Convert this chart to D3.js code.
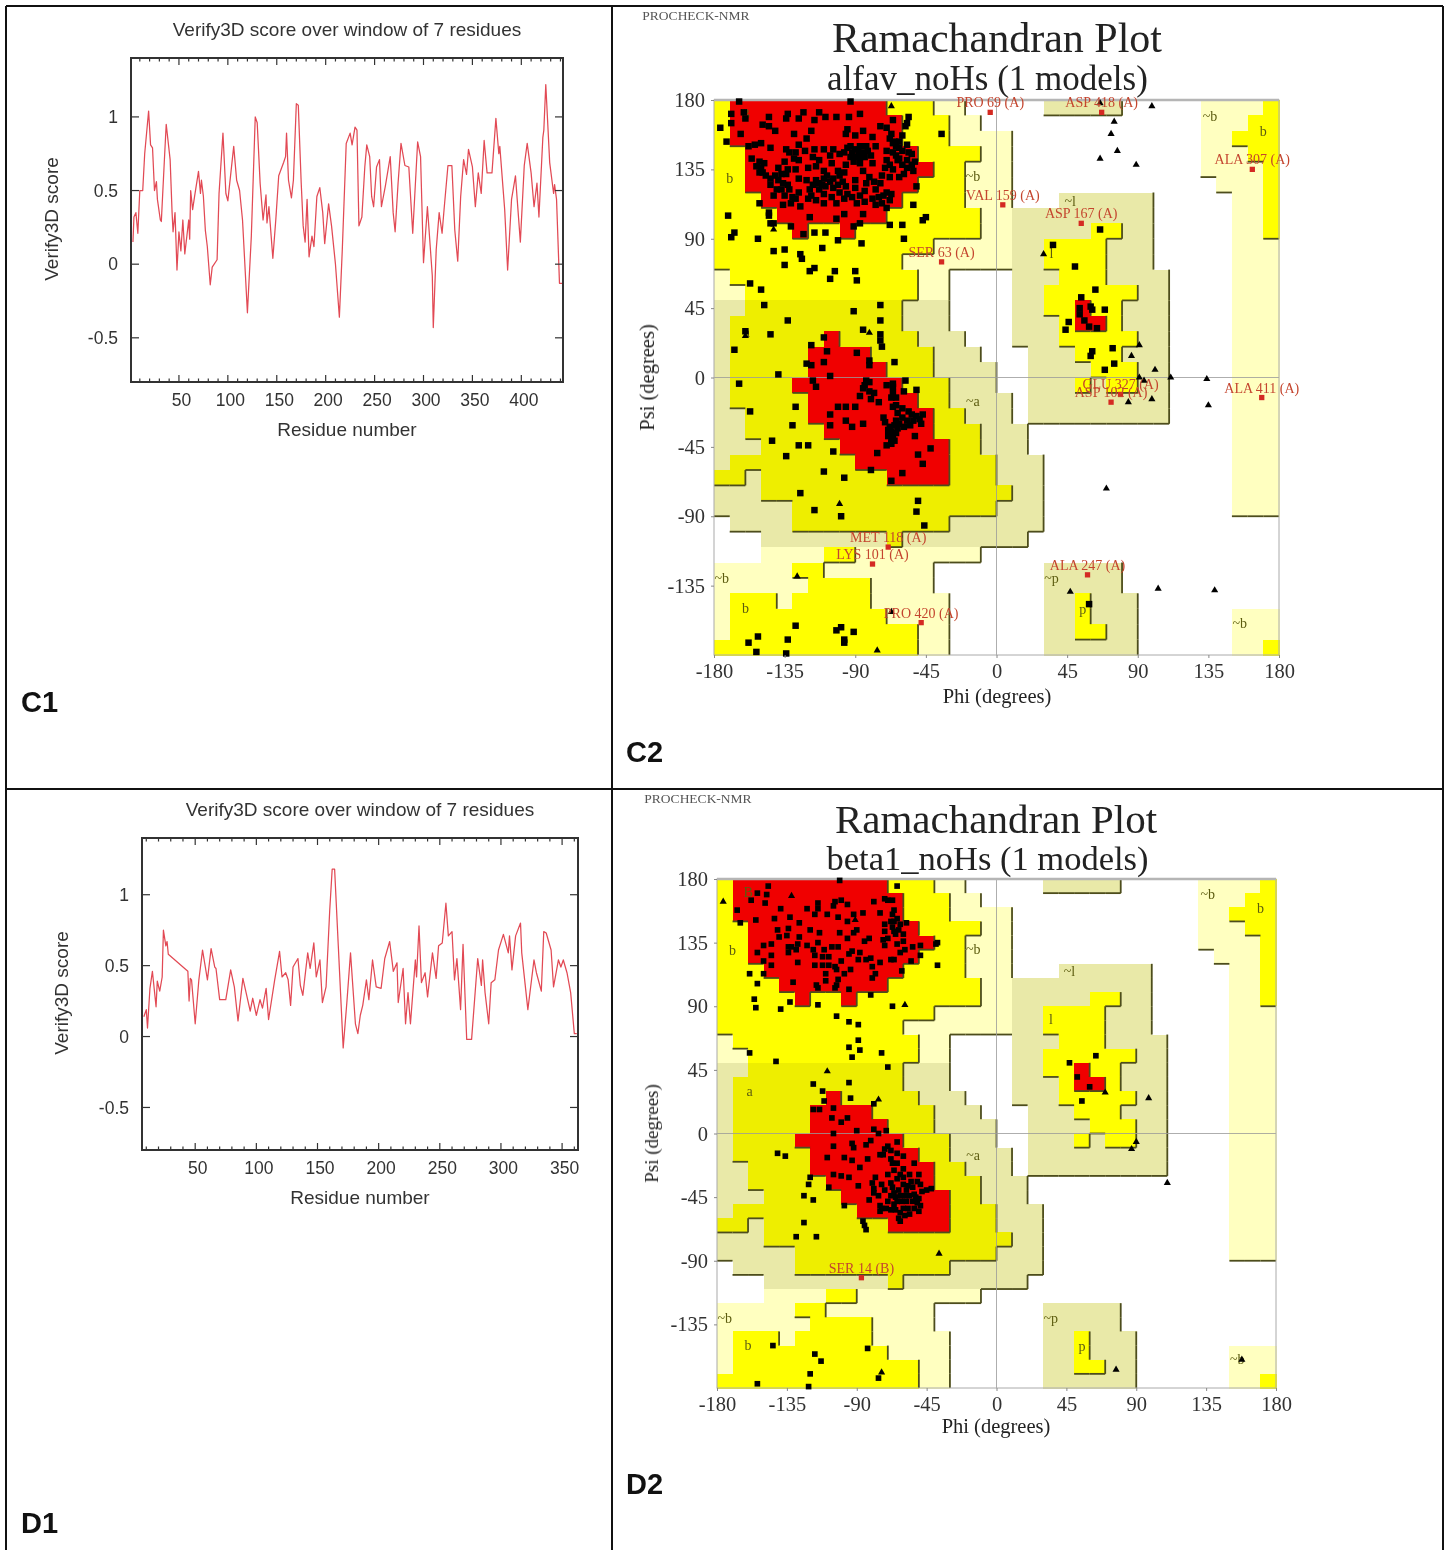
<!DOCTYPE html>
<html>
<head>
<meta charset="utf-8">
<title>Verify3D and Ramachandran plots</title>
<script src="https://cdn.jsdelivr.net/npm/d3@7"></script>
<style>
  html, body { margin: 0; padding: 0; background: #fff; }
  svg { display: block; }
</style>
</head>
<body>
<svg id="sheet" width="1450" height="1550"></svg>
<script>
// Verify3D profiles, [residue, score]
const c1Profile = [[3,.15],[4,.32],[6,.35],[8,.21],[10,.5],[13,.5],[15,.75],[19,1.04],[21,.81],[23,.79],[25,.5],[27,.56],[28,.44],[31,.3],[32,.29],[35,.69],[37,.95],[41,.71],[43,.35],[44,.22],[46,.35],[48,-.04],[50,.22],[52,.09],[54,.3],[56,.07],[60,.3],[61,.17],[62,.5],[64,.37],[66,.46],[70,.63],[72,.48],[73,.57],[75,.46],[77,.23],[79,.12],[82,-.14],[84,-.02],[89,.03],[91,.48],[95,.89],[98,.48],[100,.43],[106,.8],[109,.57],[112,.5],[115,.3],[120,-.33],[124,.19],[128,1],[130,.96],[133,.55],[136,.3],[139,.47],[140,.28],[142,.39],[146,.04],[149,.3],[152,.6],[157,.69],[159,.73],[160,.89],[162,.57],[165,.45],[167,.57],[170,1.09],[172,1.08],[175,.55],[177,.26],[179,.15],[181,.44],[183,.05],[186,.19],[188,.12],[191,.46],[194,.52],[197,.35],[199,.14],[203,.41],[206,.26],[210,0],[214,-.36],[217,.1],[221,.82],[225,.89],[227,.81],[230,.93],[232,.91],[234,.26],[237,.32],[240,.66],[242,.81],[245,.73],[247,.46],[249,.39],[252,.66],[255,.71],[257,.39],[261,.53],[266,.73],[269,.35],[271,.22],[274,.55],[277,.82],[281,.67],[285,.66],[289,.21],[294,.83],[297,.73],[300,.01],[304,.39],[309,-.08],[310,-.43],[313,.1],[316,.35],[319,.21],[321,.37],[325,.67],[329,.67],[332,.23],[335,.02],[338,.46],[341,.71],[344,.61],[346,.78],[350,.66],[353,.39],[356,.62],[359,.48],[362,.84],[365,.62],[370,.62],[374,.99],[377,.75],[378,.8],[383,.37],[386,-.04],[390,.44],[394,.6],[399,.15],[403,.67],[406,.82],[410,.62],[413,.39],[416,.55],[418,.32],[422,.86],[423,.91],[425,1.22],[429,.69],[433,.48],[434,.54],[436,.44],[439,-.13],[442,-.13]];
const d1Profile = [[8,.14],[10,.19],[11,.06],[13,.34],[15,.46],[18,.21],[19,.39],[21,.32],[23,.42],[24,.75],[26,.64],[27,.67],[28,.58],[44,.46],[45,.25],[46,.41],[47,.4],[50,.09],[53,.4],[56,.61],[60,.4],[63,.62],[66,.49],[67,.48],[70,.26],[75,.26],[79,.47],[82,.35],[85,.11],[89,.41],[95,.18],[97,.27],[100,.15],[103,.26],[105,.2],[108,.34],[110,.12],[115,.4],[119,.6],[121,.42],[124,.45],[126,.4],[128,.22],[130,.49],[134,.55],[136,.36],[138,.29],[142,.59],[144,.48],[147,.66],[149,.42],[152,.54],[154,.24],[157,.35],[160,.89],[162,1.18],[164,1.18],[167,.64],[171,-.08],[174,.24],[177,.59],[181,.09],[183,.02],[185,.15],[187,.22],[190,.4],[192,.26],[195,.54],[198,.35],[202,.34],[205,.55],[209,.67],[212,.46],[215,.52],[216,.24],[220,.48],[222,.09],[224,.31],[226,.09],[230,.54],[231,.42],[233,.78],[235,.38],[238,.45],[240,.28],[244,.59],[247,.41],[249,.64],[252,.66],[255,.94],[257,.71],[260,.74],[262,.4],[264,.55],[267,.19],[269,.65],[272,-.02],[276,-.02],[281,.55],[284,.36],[285,.54],[287,.31],[290,.09],[292,.38],[295,.4],[298,.61],[302,.72],[306,.59],[307,.71],[309,.47],[312,.71],[316,.8],[317,.59],[322,.19],[327,.54],[329,.45],[333,.32],[335,.74],[337,.73],[341,.61],[343,.35],[347,.54],[349,.49],[351,.54],[354,.45],[357,.31],[360,.02],[362,.02]];
const verifyScoreTicks = [-0.5, 0, 0.5, 1];

// Ramachandran region map, one row per 10 degrees of psi from 180 down to -180.
// R core, Y/A allowed, P/K generous, . disallowed
const regionRows = [
  'YRRRRRRRRRRYYYPP.....KKKKK.....PPPPY',
  'YRRRRRRRRRRRYYYPP..............PPPYY',
  'YRRRRRRRRRRRYYYPPPP............PPYYY',
  'YYRRRRRRRRRRRYYYYPP............PPPYY',
  'YYRRRRRRRRRRRRYYPPP............PPPPY',
  'YYRRRRRRRRRRRYYYPPP.............PPPY',
  'YYYRRRRRRRRRYYYYPPP...KKKKKK.....PPY',
  'YYYYRRRRRRRYYYYYYPPKKKKKKKKK.....PPY',
  'YYYYYRYYRYYYYYYYYPPKKKKKYYKK.....PPY',
  'YYYYYYYYYYYYYYPPPPPKKYYYYKKK.....PPP',
  'YYYYYYYYYYYYPPPPPPPKKYYYYKKK.....PPP',
  'PYYYYYYYYYYYYPP....KKKYYYKKKK....PPP',
  'PPYYYYYYYYYYYPP....KKYYYYYYKK....PPP',
  'KKAAAAAAAAAAKKK....KKYYRYYKKK....PPP',
  'KAAAAAAAAAAAKKK....KKKYRRYKKK....PPP',
  'KAAAAAARAAAAAKKK...KKKYYYYYKK....PPP',
  'KAAAAARRRRAAAAKKK...KKKYYYKKK....PPP',
  'KAAAAARRRRRAAAKKKK..KKKKYYYKK....PPP',
  'KAAAARRRRRRRAAAKKK..KKKYKYYKK....PPP',
  'KAAAAARRRRRRRAAKKKK.KKKKKKKKK....PPP',
  'KKAAAARRRRRRRRAAKKK.KKKKKKKKK....PPP',
  'KKAAAAARRRRRRRAAAKKK.............PPP',
  'KKKAAAAARRRRRRRAAKKK.............PPP',
  'KAAAAAAAARRRRRRAAAKKK............PPP',
  'AAKAAAAAAAARRRRAAAKKK............PPP',
  'KKKAAAAAAAAAAAAAAAAKK............PPP',
  'KKKKKAAAAAAAAAAAAAKKK............PPP',
  '.KKKKAAAAAAAAAAKKKKKK...............',
  '...KKKKKKKKAKKKKKKKK................',
  '...PPPPYYPPPPPPPP...................',
  'PPPPPYYPPPPPPP.......KKKKK..........',
  'PPPPPPYYYYPPPP.......KKKKK..........',
  'PYYYPYYYYYPPPPP......KKYKKK.........',
  'PYYYYYYYYYYPPPP......KKYKKK......PPP',
  'PYYYYYYYYYYYYPP......KKYYKK......PPP',
  'YYYYYYYYYYYYYPP......KKKKKK......PPY'
];
const regionColours = { R: '#f00000', Y: '#ffff00', A: '#eeee00', P: '#ffffc0', K: '#e9e9a8' };
const regionRank = { R: 3, Y: 2, A: 2, P: 1, K: 1, '.': 0 };
const regionNotes = [[-160,170,'B'],[-170,129,'b'],[-15,130,'~b'],[136,169,'~b'],[170,159,'b'],[47,114,'~l'],[35,80,'l'],[-159,29,'a'],[-15,-16,'~a'],[-175,-131,'~b'],[-160,-150,'b'],[35,-131,'~p'],[55,-151,'p'],[155,-160,'~b']];
const angleTicks = [-180, -135, -90, -45, 0, 45, 90, 135, 180];

// residues, [phi, psi]
const alfavSquares = [[-164,179],[-93,179],[-176,162],[-172,153],[-169,165],[-169,171],[-161,172],[-160,168],[-163,158],[-145,169],[-149,164],[-133,171],[-123,172],[-134,168],[-126,168],[-113,172],[-116,167],[-109,169],[-102,169],[-94,169],[-87,171],[-145,163],[-141,160],[-129,158],[-118,160],[-95,161],[-96,158],[-85,160],[-74,163],[-70,162],[-66,167],[-56,169],[-57,165],[-58,163],[-67,158],[-65,153],[-35,158],[-57,151],[-62,149],[-79,156],[-90,157],[-121,155],[-158,150],[-154,151],[-150,152],[-144,149],[-134,148],[-116,148],[-110,148],[-126,151],[-106,144],[-95,149],[-92,146],[-87,150],[-82,147],[-87,143],[-90,143],[-77,150],[-70,147],[-64,144],[-62,142],[-54,145],[-52,140],[-57,136],[-70,141],[-79,139],[-85,134],[-96,138],[-101,134],[-110,134],[-115,137],[-126,141],[-129,142],[-135,140],[-156,142],[-151,140],[-150,136],[-149,133],[-139,136],[-137,132],[-144,129],[-134,132],[-126,129],[-121,128],[-115,128],[-110,129],[-108,131],[-100,131],[-97,133],[-90,128],[-81,130],[-73,131],[-68,130],[-62,130],[-59,132],[-53,134],[-51,124],[-53,112],[-144,125],[-137,122],[-132,122],[-126,120],[-119,122],[-113,122],[-109,124],[-104,123],[-96,124],[-90,123],[-83,126],[-77,122],[-70,120],[-67,119],[-151,113],[-142,118],[-136,112],[-131,113],[-125,111],[-120,116],[-115,115],[-110,113],[-102,113],[-97,116],[-89,113],[-77,112],[-73,113],[-145,107],[-145,105],[-119,104],[-102,103],[-97,106],[-85,106],[-171,105],[-45,104],[-47,102],[-144,100],[-142,100],[-131,98],[-91,98],[-87,100],[-68,99],[-60,99],[-167,94],[-169,91],[-152,90],[-123,93],[-116,94],[-109,94],[-101,89],[-86,87],[-59,90],[-142,82],[-135,83],[-125,80],[-124,77],[-111,84],[-135,73],[-119,69],[-116,71],[-103,69],[-90,69],[-106,64],[-89,63],[-157,61],[-150,57],[-148,47],[-133,37],[-144,28],[-160,30],[-167,18],[-91,43],[-74,47],[-74,37],[-85,31],[-74,28],[-74,24],[-73,20],[-110,26],[-118,21],[-108,17],[-121,9],[-118,8],[-89,16],[-81,11],[-81,8],[-65,10],[-139,2],[-106,1],[-110,10],[-164,-4],[-117,-2],[-115,-6],[-83,-2],[-81,-3],[-85,-7],[-87,-12],[-78,-10],[-58,-2],[-51,-8],[-66,-4],[-66,-6],[-59,-9],[-67,-13],[-64,-13],[-128,-19],[-157,-22],[-130,-31],[-143,-41],[-126,-44],[-120,-44],[-134,-51],[-104,-48],[-110,-61],[-97,-65],[-80,-60],[-67,-67],[-60,-62],[-125,-75],[-116,-86],[-99,-90],[-50,-80],[-51,-87],[-46,-96],[-101,-19],[-96,-19],[-90,-19],[-106,-24],[-96,-28],[-106,-31],[-92,-32],[-85,-30],[-75,-16],[-66,-19],[-60,-20],[-64,-18],[-56,-22],[-54,-24],[-51,-25],[-49,-27],[-53,-28],[-71,-29],[-68,-32],[-67,-35],[-66,-38],[-65,-31],[-62,-30],[-59,-32],[-67,-43],[-52,-38],[-42,-46],[-50,-50],[-47,-56],[-76,-49],[-69,-34],[-64,-36],[-67,-41],[-128,-161],[-158,-172],[-152,-168],[-133,-170],[-153,-178],[-134,-179],[-102,-164],[-99,-162],[-91,-165],[-97,-170],[-97,-172],[36,86],[50,72],[66,96],[54,52],[63,57],[69,44],[60,46],[61,44],[53,45],[53,41],[56,37],[59,33],[64,32],[46,36],[44,31],[61,17],[60,14],[74,19],[75,9],[69,5],[59,-147],
  [-93,150],[-90,148],[-88,147],[-85,146],[-83,150],[-80,144],[-84,143],[-93,143],[-91,140],[-87,139],[-68,155],[-66,152],[-64,150],[-62,153],[-60,147],[-66,146],[-63,141],[-60,138],[-68,138],[-66,135],[-71,136],[-60,157],[-56,146],[-57,141],[-54,138],[-141,131],[-139,128],[-136,126],[-133,125],[-140,122],[-135,118],[-130,117],[-128,116],[-133,135],[-128,135],[-117,125],[-113,126],[-106,127],[-104,129],[-101,125],[-118,118],[-110,119],[-105,117],[-100,120],[-95,119],[-92,117],[-87,118],[-84,121],[-111,125],[-98,127],[-153,137],[-148,139],[-151,133],[-147,131],[-122,147],[-117,143],[-113,141],[-105,139],[-100,145],[-97,146],[-120,136],[-128,146],[-132,146],[-104,148],[-78,127],[-74,126],[-72,118],[-68,115],[-75,117],[-79,116],[-84,114],[-70,110],[-70,-5],[-66,-10],[-63,-23],[-69,-38],[-65,-41],[-63,-33],[-70,-44],[-64,-28],[-60,-26],[-57,-28],[-55,-31],[-72,-26],[-81,-9],[-84,-5],[-80,-14],[-47,-24],[-48,-30]];
const alfavTriangles = [[-67,176],[-142,96],[-81,29],[-160,27],[-100,-82],[-127,-129],[-76,-177],[-67,-152],[99,176],[75,166],[73,158],[77,147],[66,142],[89,138],[30,80],[91,21],[86,14],[101,5],[91,0],[111,0],[66,178],[94,-2],[99,-14],[84,-16],[134,-1],[135,-18],[70,-72],[103,-137],[139,-138],[47,-139]];
const alfavOutliers = [[-4,172,'PRO 69 (A)'],[67,172,'ASP 418 (A)'],[163,135,'ALA 307 (A)'],[4,112,'VAL 159 (A)'],[54,100,'ASP 167 (A)'],[-35,75,'SER 63 (A)'],[79,-11,'GLU 327 (A)'],[73,-16,'ASP 102 (A)'],[169,-13,'ALA 411 (A)'],[-69,-110,'MET 118 (A)'],[-79,-121,'LYS 101 (A)'],[58,-128,'ALA 247 (A)'],[-48,-159,'PRO 420 (A)']];

const betaSquares = [[-101,179],[-64,175],[-147,175],[-154,170],[-148,169],[-158,165],[-149,163],[-167,158],[-165,149],[-155,151],[-139,159],[-143,152],[-133,153],[-127,149],[-122,159],[-115,163],[-115,159],[-117,155],[-109,155],[-104,164],[-100,165],[-105,161],[-96,162],[-102,153],[-96,150],[-79,164],[-72,166],[-70,165],[-67,165],[-75,156],[-66,158],[-67,155],[-68,150],[-67,146],[-72,143],[-66,143],[-63,144],[-65,141],[-58,149],[-60,141],[-141,144],[-140,139],[-135,140],[-127,139],[-120,144],[-114,142],[-101,142],[-96,138],[-92,142],[-90,144],[-82,138],[-85,136],[-73,137],[-72,133],[-60,136],[-59,130],[-54,132],[-49,133],[-49,126],[-39,134],[-38,135],[-150,133],[-145,134],[-154,128],[-145,126],[-134,132],[-132,132],[-134,128],[-129,130],[-122,133],[-117,126],[-111,130],[-106,132],[-102,132],[-112,125],[-93,129],[-89,123],[-84,123],[-81,124],[-80,118],[-75,121],[-68,123],[-66,123],[-61,115],[-55,122],[-150,122],[-128,121],[-145,119],[-117,119],[-112,119],[-108,119],[-104,118],[-103,116],[-94,116],[-110,113],[-102,109],[-103,105],[-104,103],[-78,113],[-80,110],[-131,107],[-116,105],[-115,103],[-95,102],[-159,113],[-150,113],[-154,106],[-38,119],[-81,98],[-156,95],[-155,89],[-139,88],[-133,93],[-115,91],[-67,90],[-103,83],[-95,79],[-89,77],[-89,66],[-95,61],[-88,59],[-93,54],[-74,57],[-70,47],[-159,57],[-142,51],[-118,35],[-95,36],[-112,30],[-94,25],[-111,23],[-79,21],[-105,18],[-118,17],[-114,17],[-106,11],[-96,11],[-100,8],[-105,0],[-90,2],[-79,3],[-71,2],[-76,0],[-105,-9],[-93,-7],[-92,-10],[-84,-8],[-81,-5],[-70,-9],[-64,-6],[-141,-14],[-136,-16],[-109,-17],[-98,-17],[-93,-19],[-83,-18],[-88,-24],[-75,-15],[-73,-15],[-68,-18],[-67,-21],[-64,-21],[-53,-21],[-60,-25],[-105,-29],[-100,-30],[-95,-31],[-120,-31],[-121,-36],[-108,-38],[-89,-37],[-80,-35],[-79,-39],[-79,-42],[-74,-36],[-68,-35],[-64,-32],[-60,-31],[-56,-29],[-50,-29],[-51,-34],[-54,-38],[-45,-40],[-42,-39],[-65,-45],[-62,-44],[-59,-44],[-56,-44],[-52,-45],[-50,-46],[-64,-48],[-61,-48],[-58,-48],[-54,-48],[-51,-49],[-49,-51],[-60,-53],[-57,-53],[-53,-53],[-50,-55],[-62,-56],[-63,-60],[-62,-62],[-66,-42],[-75,-51],[-74,-53],[-75,-55],[-82,-47],[-98,-51],[-86,-62],[-85,-65],[-84,-68],[-118,-47],[-124,-44],[-124,-63],[-129,-73],[-116,-73],[-144,-150],[-83,-152],[-117,-156],[-113,-161],[-120,-170],[-76,-173],[-154,-177],[-121,-179],[64,55],[47,50],[52,40],[60,33],[55,23],
  [-72,-11],[-68,-12],[-64,-14],[-60,-16],[-66,-26],[-62,-29],[-60,-36],[-57,-37],[-55,-34],[-70,-29],[-72,-40],[-68,-44],[-70,-48],[-66,-50],[-67,-38],[-63,-40],[-48,-41],[-49,-36],[-53,-43],[-58,-40],[-78,-31],[-76,-44],[-71,-53],[-68,-54],[-56,-57],[-59,-58],[-65,-54],[-66,150],[-64,152],[-62,148],[-72,148],[-70,138],[-64,134],[-62,128],[-95,127],[-88,128],[-115,135],[-108,125],[-100,122],[-110,108],[-98,113],[-134,145],[-128,134],[-118,130],[-86,156],[-92,155]];
const betaTriangles = [[-176,164],[-132,168],[-91,151],[-59,91],[-109,44],[-76,24],[-37,-85],[-74,-169],[70,29],[98,25],[90,-6],[87,-11],[110,-35],[77,-167],[158,-160]];
const betaOutliers = [[-87,-102,'SER 14 (B)']];

const svg = d3.select('#sheet');
const defs = svg.append('defs');
[['soft', 0.55], ['softer', 0.7]].forEach(d => {
  defs.append('filter').attr('id', d[0])
    .attr('x', '-5%').attr('y', '-5%').attr('width', '110%').attr('height', '110%')
    .append('feGaussianBlur').attr('stdDeviation', d[1]);
});

const sansFont = '"Liberation Sans", Arial, sans-serif';
const serifFont = '"Liberation Serif", "Times New Roman", serif';

function drawVerify(profile, box, residueDomain, scoreDomain, residueTicks, labels) {
  const x = d3.scaleLinear().domain(residueDomain).range([box.left, box.right]);
  const y = d3.scaleLinear().domain(scoreDomain).range([box.bottom, box.top]);
  const g = svg.append('g').attr('filter', 'url(#soft)');
  const minor = d3.range(Math.ceil(residueDomain[0] / 10) * 10, residueDomain[1], 10);

  const line = d3.line().x(d => x(d[0])).y(d => y(d[1]));
  g.append('path').datum(profile)
    .attr('fill', 'none').attr('stroke', '#e24a54').attr('stroke-width', 1.25)
    .attr('stroke-linejoin', 'round').attr('d', line);

  const xAxis = d3.axisBottom(x).tickValues(residueTicks).tickSize(0).tickPadding(0).tickFormat(d3.format('d'));
  const yAxis = d3.axisLeft(y).tickValues(verifyScoreTicks).tickSize(0).tickPadding(13).tickFormat(d => d);
  const axisStyle = a => {
    a.selectAll('.domain').remove();
    a.selectAll('text').attr('font-family', sansFont).attr('font-size', 17.5).attr('fill', '#333');
  };
  g.append('g').attr('transform', `translate(0,${box.bottom})`).call(xAxis).call(axisStyle)
    .selectAll('text').attr('y', 12).attr('dx', 2);
  g.append('g').attr('transform', `translate(${box.left},0)`).call(yAxis).call(axisStyle);

  // inward ticks on all four sides
  const ticks = g.append('g').attr('stroke', '#333').attr('stroke-width', 1.2);
  minor.forEach(r => {
    const len = residueTicks.includes(r) ? 7 : 3.5;
    ticks.append('line').attr('x1', x(r)).attr('x2', x(r)).attr('y1', box.bottom).attr('y2', box.bottom - len);
    ticks.append('line').attr('x1', x(r)).attr('x2', x(r)).attr('y1', box.top).attr('y2', box.top + len);
  });
  verifyScoreTicks.forEach(v => {
    ticks.append('line').attr('x1', box.left).attr('x2', box.left + 8).attr('y1', y(v)).attr('y2', y(v));
    ticks.append('line').attr('x1', box.right).attr('x2', box.right - 8).attr('y1', y(v)).attr('y2', y(v));
  });
  g.append('rect').attr('x', box.left).attr('y', box.top)
    .attr('width', box.right - box.left).attr('height', box.bottom - box.top)
    .attr('fill', 'none').attr('stroke', '#333').attr('stroke-width', 2);

  const text = g.append('g').attr('font-family', sansFont).attr('font-size', 19).attr('fill', '#333').attr('text-anchor', 'middle');
  text.append('text').attr('x', labels.cx).attr('y', box.top - 22).text('Verify3D score over window of 7 residues');
  text.append('text').attr('x', labels.cx).attr('y', box.bottom + 54).text('Residue number');
  text.append('text').attr('transform', `translate(${labels.yTitleX},${(box.top + box.bottom) / 2 - 1}) rotate(-90)`).text('Verify3D score');
}

function drawRama(box, title, squares, triangles, outliers, marks, labels) {
  const x = d3.scaleLinear().domain([-180, 180]).range([box.left, box.right]);
  const y = d3.scaleLinear().domain([-180, 180]).range([box.bottom, box.top]);
  const g = svg.append('g').attr('filter', 'url(#softer)');

  const cells = [];
  regionRows.forEach((row, r) => row.split('').forEach((k, c) => {
    if (k !== '.') cells.push({ k, phi: -180 + c * 10, psi: 170 - r * 10 });
  }));
  g.append('g').attr('shape-rendering', 'crispEdges').selectAll('rect').data(cells).join('rect')
    .attr('x', d => x(d.phi)).attr('y', d => y(d.psi + 10))
    .attr('width', d => x(d.phi + 10) - x(d.phi) + 0.5)
    .attr('height', d => y(d.psi) - y(d.psi + 10) + 0.5)
    .attr('fill', d => regionColours[d.k]);

  // darker rule on the right and lower edge where a region falls to a lesser one
  const edges = [];
  cells.forEach(d => {
    const c = (d.phi + 180) / 10, r = (170 - d.psi) / 10;
    const here = regionRank[d.k];
    if (c < 35 && here > regionRank[regionRows[r][c + 1]])
      edges.push([d.phi + 10, d.psi, d.phi + 10, d.psi + 10]);
    if (r < 35 && here > regionRank[regionRows[r + 1][c]])
      edges.push([d.phi, d.psi, d.phi + 10, d.psi]);
  });
  g.append('g').selectAll('line').data(edges).join('line')
    .attr('x1', d => x(d[0])).attr('y1', d => y(d[1]))
    .attr('x2', d => x(d[2])).attr('y2', d => y(d[3]))
    .attr('stroke', '#4d4d1c').attr('stroke-width', 1.8);

  // zero lines and frame
  const guide = g.append('g').attr('stroke', '#999').attr('stroke-width', 0.8);
  guide.append('line').attr('x1', x(0)).attr('x2', x(0)).attr('y1', box.top).attr('y2', box.bottom);
  guide.append('line').attr('x1', box.left).attr('x2', box.right).attr('y1', y(0)).attr('y2', y(0));
  g.append('rect').attr('x', box.left).attr('y', box.top)
    .attr('width', box.right - box.left).attr('height', box.bottom - box.top)
    .attr('fill', 'none').attr('stroke', '#aaa').attr('stroke-width', 1);
  g.append('line').attr('x1', box.left).attr('x2', box.right).attr('y1', box.top).attr('y2', box.top)
    .attr('stroke', '#b5b5b5').attr('stroke-width', 2.5);

  // region letters
  g.append('g').attr('font-family', serifFont).attr('font-size', 14).attr('fill', '#5c5c10').attr('text-anchor', 'middle')
    .selectAll('text').data(regionNotes).join('text')
    .attr('x', d => x(d[0])).attr('y', d => y(d[1]) + 4).text(d => d[2]);

  const marker = (type, size) => d3.symbol().type(type).size(size);
  g.append('g').selectAll('path').data(squares).join('path')
    .attr('transform', d => `translate(${x(d[0])},${y(d[1])})`)
    .attr('d', marker(d3.symbolSquare, marks.square)).attr('fill', '#000');
  g.append('g').selectAll('path').data(triangles).join('path')
    .attr('transform', d => `translate(${x(d[0])},${y(d[1])})`)
    .attr('d', marker(d3.symbolTriangle, 22)).attr('fill', '#000');
  g.append('g').selectAll('path').data(outliers).join('path')
    .attr('transform', d => `translate(${x(d[0])},${y(d[1])})`)
    .attr('d', marker(d3.symbolSquare, 28)).attr('fill', '#d42a20');
  g.append('g').attr('font-family', serifFont).attr('font-size', 14).attr('fill', '#c4452e').attr('text-anchor', 'middle')
    .selectAll('text').data(outliers).join('text')
    .attr('x', d => x(d[0])).attr('y', d => y(d[1]) - 5).text(d => d[2]);

  // axes
  const axisStyle = a => {
    a.selectAll('.domain').remove();
    a.selectAll('line').attr('stroke', '#888');
    a.selectAll('text').attr('font-family', serifFont).attr('font-size', 20.5).attr('fill', '#333');
  };
  g.append('g').attr('transform', `translate(0,${box.bottom})`)
    .call(d3.axisBottom(x).tickValues(angleTicks).tickSize(3).tickPadding(5).tickFormat(d => d)).call(axisStyle);
  g.append('g').attr('transform', `translate(${box.left},0)`)
    .call(d3.axisLeft(y).tickValues(angleTicks.slice(1)).tickSize(3).tickPadding(6).tickFormat(d => d)).call(axisStyle);

  const text = g.append('g').attr('font-family', serifFont).attr('fill', '#222').attr('text-anchor', 'middle');
  text.append('text').attr('x', labels.cx).attr('y', labels.mainY).attr('font-size', labels.mainSize).text('Ramachandran Plot');
  text.append('text').attr('x', labels.subX).attr('y', labels.subY).attr('font-size', labels.subSize).text(title);
  text.append('text').attr('x', labels.cx).attr('y', labels.phiY).attr('font-size', 20.5).text('Phi (degrees)');
  text.append('text').attr('transform', `translate(${labels.psiX},${y(0)}) rotate(-90)`).attr('font-size', labels.psiSize).text('Psi (degrees)');
  text.append('text').attr('x', labels.nmrX).attr('y', labels.nmrY).attr('font-size', 13.5).attr('fill', '#555').text('PROCHECK-NMR');
}

drawVerify(c1Profile, { left: 131, right: 563, top: 58, bottom: 382 }, [1, 442.6], [-0.8, 1.4], [50, 100, 150, 200, 250, 300, 350, 400], { cx: 347, yTitleX: 58 });
drawVerify(d1Profile, { left: 142, right: 578, top: 838, bottom: 1150 }, [6.5, 363], [-0.8, 1.4], [50, 100, 150, 200, 250, 300, 350], { cx: 360, yTitleX: 68 });

drawRama({ left: 714, right: 1279, top: 100, bottom: 655 }, 'alfav_noHs (1 models)', alfavSquares, alfavTriangles, alfavOutliers, { square: 42 },
  { cx: 997, subX: 987.5, mainY: 52, subY: 90, mainSize: 42, subSize: 35, phiY: 703, psiX: 654, psiSize: 20.5, nmrX: 696, nmrY: 20 });
drawRama({ left: 717, right: 1276, top: 879, bottom: 1388 }, 'beta1_noHs (1 models)', betaSquares, betaTriangles, betaOutliers, { square: 32 },
  { cx: 996, subX: 987.5, mainY: 833, subY: 870, mainSize: 41, subSize: 34.5, phiY: 1433, psiX: 658, psiSize: 19, nmrX: 698, nmrY: 803 });

// page table rules and panel letters
const rules = svg.append('g').attr('stroke', '#111').attr('stroke-width', 2);
[[6, 6, 1443, 6], [6, 789, 1443, 789], [6, 6, 6, 1550], [612, 6, 612, 1550], [1443, 6, 1443, 1550]].forEach(d => {
  rules.append('line').attr('x1', d[0]).attr('y1', d[1]).attr('x2', d[2]).attr('y2', d[3]);
});
svg.append('g').attr('font-family', sansFont).attr('font-weight', 'bold').attr('font-size', 29).attr('fill', '#111')
  .selectAll('text').data([['C1', 21, 712], ['C2', 626, 762], ['D1', 21, 1533], ['D2', 626, 1494]]).join('text')
  .attr('x', d => d[1]).attr('y', d => d[2]).text(d => d[0]);
</script>
</body>
</html>
